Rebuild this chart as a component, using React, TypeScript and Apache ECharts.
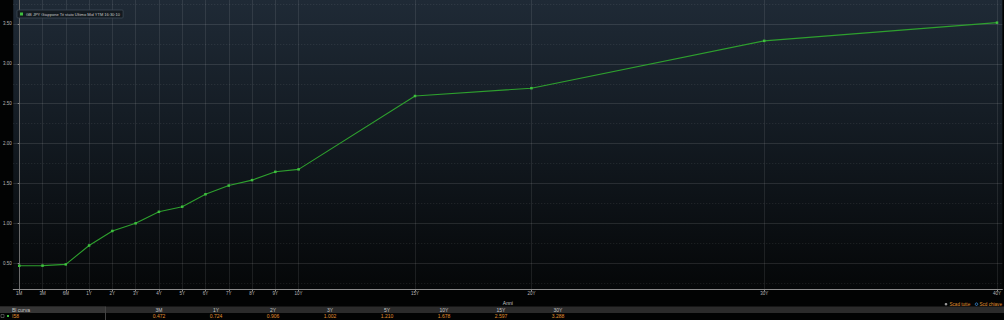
import React, { useEffect, useRef } from "react";
import * as echarts from "echarts";

// X axis: tenor labels and their position on the (piecewise) tenor scale
const tenorLabels = ["1M", "3M", "6M", "1Y", "2Y", "3Y", "4Y", "5Y", "6Y", "7Y", "8Y", "9Y", "10Y", "15Y", "20Y", "30Y", "40Y"];
const tenorPositions = [0, 1, 2, 3, 4, 5, 6, 7, 8, 9, 10, 11, 12, 17, 22, 32, 42];
// Yields (%)
const yields = [0.47, 0.472, 0.487, 0.724, 0.906, 1.002, 1.146, 1.21, 1.366, 1.475, 1.543, 1.647, 1.678, 2.597, 2.695, 3.288, 3.516];
// Y axis ticks
const yMajorTicks = [0.5, 1.0, 1.5, 2.0, 2.5, 3.0, 3.5];
const yMinorTicks = [0.25, 0.75, 1.25, 1.75, 2.25, 2.75, 3.25, 3.75];
// Table below chart
const tableTenors = ["3M", "1Y", "2Y", "3Y", "5Y", "10Y", "15Y", "30Y"];
const tableValues = ["0.472", "0.724", "0.906", "1.002", "1.210", "1.678", "2.597", "3.288"];

const seriesName = "GB JPY Giappone Tit stato Ultimo Mid YTM 16:30:10";
const FONT = 'Arial, "Liberation Sans", sans-serif';

export default function App() {
  const ref = useRef<HTMLDivElement>(null);
  useEffect(() => {
    if (!ref.current) return;
    const chart = echarts.init(ref.current, null, { renderer: "svg" });
    const labelMap: Record<number, string> = {};
    tenorPositions.forEach((p, i) => (labelMap[p] = tenorLabels[i]));

    const tableGraphics: any[] = [
      { type: "rect", shape: { x: 0, y: 306.5, width: 1004, height: 6.5 }, style: { fill: "#2b2b2b" }, z: 1 },
      { type: "rect", shape: { x: 0, y: 306.5, width: 105, height: 6.5 }, style: { fill: "#353535" }, z: 2 },
      { type: "line", shape: { x1: 105.5, y1: 306.5, x2: 105.5, y2: 320 }, style: { stroke: "#444", lineWidth: 1 }, z: 2 },
      { type: "text", x: 12, y: 309.8, style: { text: "Bl curva", fill: "#c8c8c8", fontSize: 5, fontFamily: FONT, verticalAlign: "middle" }, z: 3 },
      { type: "rect", shape: { x: 1, y: 314.5, width: 3, height: 3 }, style: { fill: "none", stroke: "#888", lineWidth: 0.5 }, z: 3 },
      { type: "rect", shape: { x: 7, y: 315, width: 2, height: 2 }, style: { fill: "#3fc03f" }, z: 3 },
      { type: "text", x: 12, y: 316.3, style: { text: "I58", fill: "#e0902e", fontSize: 5, fontFamily: FONT, verticalAlign: "middle" }, z: 3 },
      { type: "circle", shape: { cx: 946, cy: 304.2, r: 1.3 }, style: { fill: "#999" }, z: 3 },
      { type: "text", x: 949.5, y: 304.2, style: { text: "Scad tutte", fill: "#e0902e", fontSize: 4.6, fontFamily: FONT, verticalAlign: "middle" }, z: 3 },
      { type: "circle", shape: { cx: 976.5, cy: 304.2, r: 1.3 }, style: { fill: "#0a0a0a", stroke: "#3a8fe0", lineWidth: 0.8 }, z: 3 },
      { type: "text", x: 979.5, y: 304.2, style: { text: "Scd chiave", fill: "#e0902e", fontSize: 4.6, fontFamily: FONT, verticalAlign: "middle" }, z: 3 },
    ];
    tableTenors.forEach((t, i) => {
      const cx = 159 + i * 57;
      tableGraphics.push({ type: "text", x: cx, y: 309.8, style: { text: t, fill: "#c8c8c8", fontSize: 5, fontFamily: FONT, align: "center", verticalAlign: "middle" }, z: 3 });
      tableGraphics.push({ type: "text", x: cx, y: 316.3, style: { text: tableValues[i], fill: "#e0902e", fontSize: 5, fontFamily: FONT, align: "center", verticalAlign: "middle" }, z: 3 });
    });

    chart.setOption({
      animation: false,
      backgroundColor: "#020303",
      textStyle: { fontFamily: FONT },
      grid: {
        left: 11,
        right: 0,
        top: 0,
        bottom: 30.7,
        show: true,
        borderWidth: 0,
        backgroundColor: new echarts.graphic.LinearGradient(0, 0, 0, 1, [
          { offset: 0, color: "#1f2a36" },
          { offset: 0.5, color: "#121920" },
          { offset: 1, color: "#050708" },
        ]),
      },
      legend: {
        show: true,
        left: 17,
        top: 10,
        padding: [2, 3, 2, 3],
        itemWidth: 3,
        itemHeight: 3,
        itemGap: 2,
        icon: "rect",
        backgroundColor: "rgba(18,24,30,0.9)",
        borderColor: "#3e4a56",
        borderWidth: 0.8,
        borderRadius: 1,
        textStyle: { color: "#c8c8c8", fontSize: 4, fontFamily: FONT, padding: [0, 0, 0, -2] },
        data: [seriesName],
      },
      xAxis: {
        type: "value",
        min: -0.257,
        max: 42.23,
        name: "Anni",
        nameLocation: "middle",
        nameGap: 8,
        nameTextStyle: { color: "#c8c8c8", fontSize: 5, fontFamily: FONT },
        axisLine: { show: true, lineStyle: { color: "#8a8a8a", width: 1 } },
        axisTick: { show: true, customValues: tenorPositions, length: 2, lineStyle: { color: "#8a8a8a" } },
        axisLabel: {
          show: true,
          customValues: tenorPositions,
          formatter: (v: number) => labelMap[Math.round(v)] ?? "",
          color: "#b8b8b8",
          fontSize: 4.5,
          margin: 1.5,
          fontFamily: FONT,
        },
        splitLine: { show: true, lineStyle: { color: "rgba(255,255,255,0.09)", width: 1 } },
      },
      yAxis: [
        {
          type: "value",
          min: 0.175,
          max: 3.8,
          axisLine: { show: true, lineStyle: { color: "#6a6a6a", width: 1 } },
          axisTick: { show: true, customValues: yMajorTicks, length: 1.5, lineStyle: { color: "#8a8a8a" } },
          axisLabel: {
            show: true,
            customValues: yMajorTicks,
            formatter: (v: number) => v.toFixed(2),
            color: "#b8b8b8",
            fontSize: 4.5,
            margin: 1.5,
            fontFamily: FONT,
          },
          splitLine: { show: true, lineStyle: { color: "rgba(255,255,255,0.11)", width: 1 } },
        },
        {
          type: "value",
          min: 0.175,
          max: 3.8,
          position: "left",
          axisLine: { show: false },
          axisTick: { show: false, customValues: yMinorTicks },
          axisLabel: { show: false, customValues: yMinorTicks },
          splitLine: { show: true, lineStyle: { color: "rgba(255,255,255,0.10)", width: 1, type: [1, 2] } },
        },
      ],
      graphic: tableGraphics,
      series: [
        {
          name: seriesName,
          type: "line",
          yAxisIndex: 0,
          data: tenorPositions.map((p, i) => [p, yields[i]]),
          color: "#3fc03f",
          lineStyle: { color: "#2ea02e", width: 1.1 },
          itemStyle: { color: "#3fc03f" },
          symbol: "rect",
          symbolSize: 2.5,
          showSymbol: true,
        },
      ],
    });
    return () => chart.dispose();
  }, []);
  return <div ref={ref} style={{ position: "fixed", left: 0, top: 0, width: 1004, height: 320 }} />;
}
